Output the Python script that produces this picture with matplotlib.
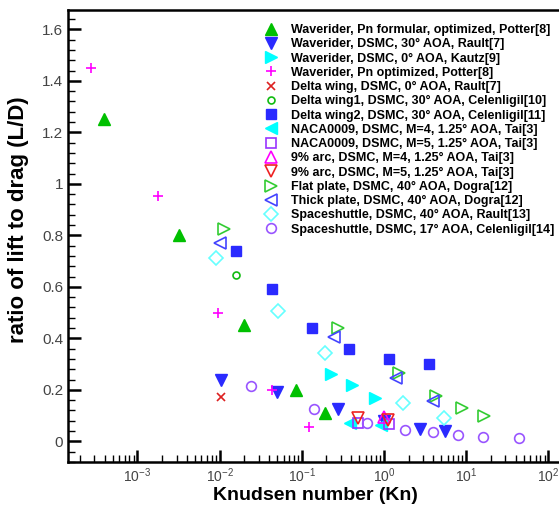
import matplotlib
matplotlib.use("Agg")
import matplotlib.pyplot as plt
import matplotlib.ticker as ticker

plt.rcParams["font.family"] = "Liberation Sans"
plt.rcParams["mathtext.fontset"] = "custom"
plt.rcParams["mathtext.rm"] = "Liberation Sans"
plt.rcParams["mathtext.it"] = "Liberation Sans"

# Data (Knudsen number, L/D)
potter_formular_kn = [3.9e-4, 3.2e-3, 0.0198, 0.085, 0.191]
potter_formular_ld = [1.25, 0.80, 0.45, 0.20, 0.109]

rault30_kn = [0.0104, 0.050, 0.275, 1.0, 2.74, 5.5]
rault30_ld = [0.237, 0.19, 0.124, 0.08, 0.05, 0.04]

kautz_kn = [0.227, 0.41, 0.78]
kautz_ld = [0.26, 0.22, 0.167]

potter_opt_kn = [2.73e-4, 1.78e-3, 9.5e-3, 0.0434, 0.122]
potter_opt_ld = [1.448, 0.951, 0.50, 0.20, 0.054]

delta0_kn = [0.0104]
delta0_ld = [0.171]

delta1_kn = [0.0158]
delta1_ld = [0.645]

delta2_kn = [0.0158, 0.0433, 0.133, 0.375, 1.15, 3.53]
delta2_ld = [0.738, 0.59, 0.439, 0.357, 0.318, 0.30]

naca_m4_kn = [0.385, 0.92]
naca_m4_ld = [0.07, 0.062]

naca_m5_kn = [0.48, 1.15]
naca_m5_ld = [0.07, 0.066]

arc_m4_kn = [1.0]
arc_m4_ld = [0.093]

arc_m5_kn = [0.48, 1.12]
arc_m5_ld = [0.089, 0.085]

flat_kn = [0.0113, 0.275, 1.52, 4.3, 8.9, 16.5]
flat_ld = [0.823, 0.439, 0.264, 0.175, 0.128, 0.097]

thick_kn = [0.0101, 0.246, 1.4, 3.94]
thick_ld = [0.769, 0.404, 0.245, 0.155]

shuttle40_kn = [9.0e-3, 0.051, 0.19, 1.7, 5.4]
shuttle40_ld = [0.711, 0.505, 0.342, 0.151, 0.09]

shuttle17_kn = [0.024, 0.141, 0.62, 1.8, 3.94, 7.9, 16, 44]
shuttle17_ld = [0.214, 0.127, 0.07, 0.043, 0.035, 0.023, 0.016, 0.012]

xticks = [1e-3, 1e-2, 1e-1, 1e0, 1e1, 1e2]

series = [
    (potter_formular_kn, potter_formular_ld, "Waverider, Pn formular, optimized, Potter[8]", "^", "#00c000", True, 8),
    (rault30_kn, rault30_ld, "Waverider, DSMC, 30° AOA, Rault[7]", "v", "#2a2aff", True, 8),
    (kautz_kn, kautz_ld, "Waverider, DSMC, 0° AOA, Kautz[9]", ">", "#00ffff", True, 8),
    (potter_opt_kn, potter_opt_ld, "Waverider, Pn optimized, Potter[8]", "+", "#ff00ff", False, 7),
    (delta0_kn, delta0_ld, "Delta wing, DSMC, 0° AOA, Rault[7]", "x", "#dd2020", False, 5.5),
    (delta1_kn, delta1_ld, "Delta wing1, DSMC, 30° AOA, Celenligil[10]", "o", "#11bb11", False, 5),
    (delta2_kn, delta2_ld, "Delta wing2, DSMC, 30° AOA, Celenligil[11]", "s", "#2a2aff", True, 7),
    (naca_m4_kn, naca_m4_ld, "NACA0009, DSMC, M=4, 1.25° AOA, Tai[3]", "<", "#00ffff", True, 8),
    (naca_m5_kn, naca_m5_ld, "NACA0009, DSMC, M=5, 1.25° AOA, Tai[3]", "s", "#9933ff", False, 7),
    (arc_m4_kn, arc_m4_ld, "9% arc, DSMC, M=4, 1.25° AOA, Tai[3]", "^", "#ff00ff", False, 8),
    (arc_m5_kn, arc_m5_ld, "9% arc, DSMC, M=5, 1.25° AOA, Tai[3]", "v", "#ee2222", False, 8),
    (flat_kn, flat_ld, "Flat plate, DSMC, 40° AOA, Dogra[12]", ">", "#33cc33", False, 8),
    (thick_kn, thick_ld, "Thick plate, DSMC, 40° AOA, Dogra[12]", "<", "#4444ff", False, 8),
    (shuttle40_kn, shuttle40_ld, "Spaceshuttle, DSMC, 40° AOA, Rault[13]", "D", "#66ffff", False, 7),
    (shuttle17_kn, shuttle17_ld, "Spaceshuttle, DSMC, 17° AOA, Celenligil[14]", "o", "#9955ff", False, 7),
]

fig = plt.figure(figsize=(5.59, 5.07), dpi=100)
ax = fig.add_axes([68 / 559, 45 / 507, 505 / 559, 452 / 507])

for kn, ld, label, marker, color, filled, ms in series:
    ax.plot(kn, ld, linestyle="none", marker=marker, markersize=ms,
            markerfacecolor=color if filled else "none",
            markeredgecolor=color, markeredgewidth=1.0 if filled else 1.2,
            label=label)

ax.set_xscale("log")
ax.set_xlim(1.43e-4, 2e2)
ax.set_ylim(-0.08, 1.675)

ax.yaxis.set_major_locator(ticker.MultipleLocator(0.2))
ax.yaxis.set_minor_locator(ticker.MultipleLocator(0.04))
ax.yaxis.set_major_formatter(ticker.FormatStrFormatter("%g"))
ax.xaxis.set_major_locator(ticker.FixedLocator(xticks))
ax.xaxis.set_major_formatter(ticker.LogFormatterSciNotation())
ax.xaxis.set_minor_locator(ticker.LogLocator(base=10, subs=range(2, 10), numticks=20))
ax.xaxis.set_minor_formatter(ticker.NullFormatter())

ax.tick_params(which="both", direction="in", top=False, right=False,
               labelcolor="#444444")
ax.tick_params(axis="y", labelsize=11)
ax.tick_params(axis="x", labelsize=10, pad=3)
ax.tick_params(which="major", length=9, width=1.8)
ax.tick_params(which="minor", length=5, width=1.0)
for side in ["left", "bottom", "top"]:
    ax.spines[side].set_linewidth(1.8)

ax.set_xlabel("Knudsen number (Kn)", fontsize=14, fontweight="bold")
ax.xaxis.set_label_coords(0.489, -0.056)
ax.set_ylabel("ratio of lift to drag (L/D)", fontsize=16, fontweight="bold")
ax.yaxis.set_label_coords(-0.078, 0.535)

fig.legend(loc="upper left", bbox_to_anchor=(265 / 559, 1 - 24 / 507),
           bbox_transform=fig.transFigure, frameon=False,
           prop={"weight": "bold", "size": 9}, handlelength=1.0,
           handletextpad=1.1, labelspacing=0.18, borderpad=0, borderaxespad=0)

fig.savefig("out.png", dpi=100)
